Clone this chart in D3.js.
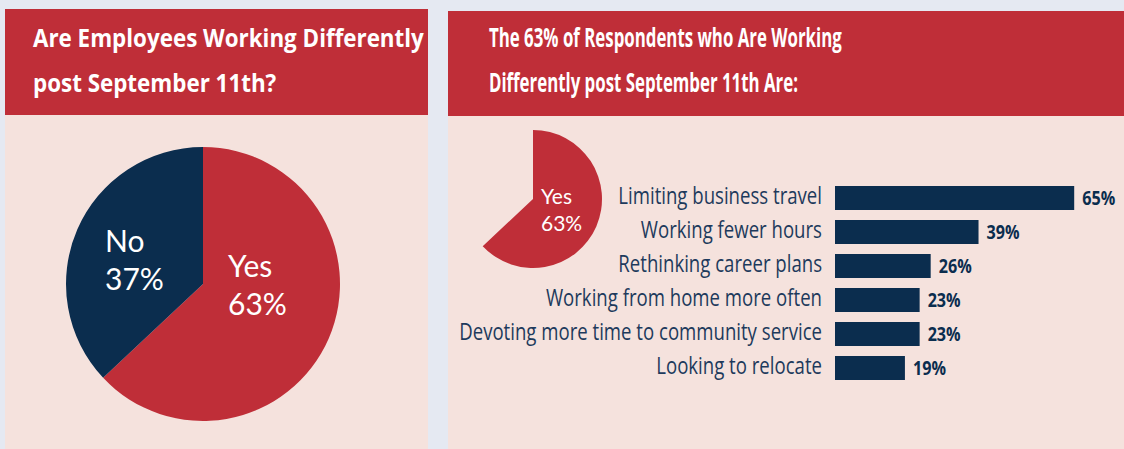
<!DOCTYPE html>
<html><head><meta charset="utf-8">
<script src="https://cdn.jsdelivr.net/npm/d3@7"></script>
<style>
html,body{margin:0;padding:0;background:#e5e9f2;}
svg{display:block;}
</style></head>
<body>
<svg id="c" width="1124" height="449"></svg>
<script>
const leftTitle = ["Are Employees Working Differently", "post September 11th?"];
const rightTitle = ["The 63% of Respondents who Are Working", "Differently post September 11th Are:"];
const pieLabels = ["Yes", "No"];
const pieValues = [63, 37];
const categories = ["Limiting business travel", "Working fewer hours", "Rethinking career plans",
  "Working from home more often", "Devoting more time to community service", "Looking to relocate"];
const values = [65, 39, 26, 23, 23, 19];

const RED = "#bf2e38", NAVY = "#0b2d4e", PINK = "#f5e2dd", BG = "#e5e9f2";
const headFont = "'Open Sans','DejaVu Sans',sans-serif";
const svg = d3.select("#c");
svg.append("rect").attr("width",1124).attr("height",449).attr("fill",BG);

// panels
svg.append("rect").attr("x",5).attr("y",115).attr("width",423).attr("height",334).attr("fill",PINK);
svg.append("rect").attr("x",5).attr("y",9).attr("width",423).attr("height",106).attr("fill",RED);
svg.append("rect").attr("x",448).attr("y",116).attr("width",676).attr("height",333).attr("fill",PINK);
svg.append("rect").attr("x",448).attr("y",11).attr("width",676).attr("height",105).attr("fill",RED);

// horizontally condense a text element around its anchor x
function condense(sel, ax, s) {
  sel.attr("transform", `translate(${ax},0) scale(${s},1) translate(${-ax},0)`);
}
function title(lines, x, y0, targetW, fs) {
  const els = lines.map((t,i) => svg.append("text").attr("x",x).attr("y",y0+i*45)
    .attr("font-family",headFont).attr("font-weight","bold").attr("font-size",fs)
    .attr("fill","#fff").text(t));
  const s = targetW / els[0].node().getComputedTextLength();
  els.forEach(e => condense(e, x, s));
  return s;
}
title(leftTitle, 33, 47, 391, 25);
title(rightTitle, 489, 47, 353, 26);

// big pie
const pie = d3.pie().sort(null).value(d=>d)(pieValues);
const bigArc = d3.arc().innerRadius(0).outerRadius(137);
const g1 = svg.append("g").attr("transform","translate(203,284)");
g1.selectAll("path").data(pie).join("path").attr("d",bigArc).attr("fill",(d,i)=>i===0?RED:NAVY);
const pf = "'Lato','Open Sans',sans-serif";
function lab2(g, x, y, l1, l2, fs, gap, anchor) {
  g.append("text").attr("x",x).attr("y",y).attr("text-anchor",anchor).attr("font-family",pf).attr("font-size",fs).attr("fill","#fff").text(l1);
  g.append("text").attr("x",x).attr("y",y+gap).attr("text-anchor",anchor).attr("font-family",pf).attr("font-size",fs).attr("fill","#fff").text(l2);
}
lab2(g1, 25, -7, pieLabels[0], pieValues[0]+"%", 30, 38, "start");
lab2(g1, -98, -32, pieLabels[1], pieValues[1]+"%", 30, 38, "start");

// small pie (yes slice only)
const smallArc = d3.arc().innerRadius(0).outerRadius(69);
const g2 = svg.append("g").attr("transform","translate(533,199)");
g2.append("path").attr("d",smallArc(pie[0])).attr("fill",RED);
lab2(g2, 8, 5, pieLabels[0], pieValues[0]+"%", 21, 27, "start");

// bars
const x = d3.scaleLinear().domain([0,100]).range([835, 835+368]);
const y = d3.scaleBand().domain(categories).range([181,385]).paddingInner(10/34).paddingOuter(5/34);
const gb = svg.append("g");
gb.selectAll("rect").data(values).join("rect")
  .attr("x",x(0)).attr("y",(d,i)=>y(categories[i]))
  .attr("width",d=>x(d)-x(0)).attr("height",y.bandwidth()).attr("fill",NAVY);
gb.selectAll("text.v").data(values).join("text").attr("class","v")
  .attr("x",d=>x(d)+8).attr("y",(d,i)=>y(categories[i])+y.bandwidth()/2+7)
  .attr("font-family",headFont).attr("font-weight","bold").attr("font-size",19).attr("fill",NAVY)
  .text(d=>d+"%")
  .each(function(d){ condense(d3.select(this), x(d)+8, 0.85); });
const cl = gb.selectAll("text.c").data(categories).join("text").attr("class","c")
  .attr("x",822).attr("y",d=>y(d)+y.bandwidth()/2+6).attr("text-anchor","end")
  .attr("font-family",headFont).attr("font-size",23).attr("fill","#1d3a5c")
  .text(d=>d);
const longest = cl.filter(d => d === categories[4]).node().getComputedTextLength();
const cs = 363 / longest;
cl.each(function(){ condense(d3.select(this), 822, cs); });
</script>
</body></html>
